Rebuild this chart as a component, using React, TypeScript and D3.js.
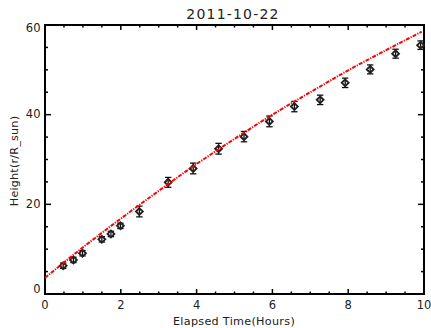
import React from "react";
import * as d3 from "d3";

const title = "2011-10-22";
const xLabel = "Elapsed Time(Hours)";
const yLabel = "Height(r/R_sun)";
const timeHours = [0.48, 0.75, 0.99, 1.5, 1.74, 1.99, 2.49, 3.25, 3.91, 4.58, 5.25, 5.92, 6.58, 7.26, 7.92, 8.58, 9.25, 9.91];
const heights = [6.3, 7.6, 9.1, 12.2, 13.4, 15.2, 18.4, 24.9, 28.0, 32.4, 35.1, 38.5, 41.8, 43.3, 47.1, 50.1, 53.6, 55.5];
const errors = [0.6, 0.6, 0.6, 0.6, 0.6, 0.6, 1.2, 1.1, 1.2, 1.2, 1.15, 1.2, 1.15, 1.05, 1.05, 1.0, 1.0, 0.95];
// fitted curve
const fitTimes = [0, 1, 2, 3, 4, 5, 6, 7, 8, 9, 9.94];
const fitHeights = [3.6, 10.4, 16.8, 23.0, 29.0, 34.6, 40.0, 45.0, 49.9, 54.4, 58.5];
const xMajorTicks = [0, 2, 4, 6, 8, 10];
const yMajorTicks = [0, 20, 40, 60];

export default function App() {
  const W = 431, H = 328;
  const L = 45, R = 424, T = 25, B = 294;
  const x = d3.scaleLinear().domain([0, 10]).range([L, R]);
  const y = d3.scaleLinear().domain([0, 60]).range([B, T]);
  const xMinor = d3.range(0, 10.001, 0.5);
  const yMinor = d3.range(0, 60.001, 5);
  const font = "DejaVu Sans, sans-serif";
  const fitLine = d3
    .line<number>()
    .x((_, i) => x(fitTimes[i]))
    .y((d) => y(d))
    .curve(d3.curveMonotoneX);
  const diamond = (cx: number, cy: number, r: number) =>
    `M${cx},${cy - r}L${cx + r},${cy}L${cx},${cy + r}L${cx - r},${cy}Z`;
  const yLabelOffset = (v: number) => (v === 0 ? -0.7 : v === 60 ? 7.3 : 3.3);
  return (
    <svg width={W} height={H} style={{ position: "absolute", left: 0, top: 0, background: "#fff" }}>
      <text x={233} y={19} textAnchor="middle" fontFamily={font} fontSize={14} letterSpacing={1.2} fill="#222">{title}</text>
      {xMinor.map((v, i) => {
        const major = xMajorTicks.some((m) => Math.abs(m - v) < 1e-6);
        const len = major ? 5 : 2.5;
        return (
          <g key={"xt" + i}>
            <line x1={x(v)} x2={x(v)} y1={B} y2={B - len} stroke="#000" strokeWidth={1.5} />
            <line x1={x(v)} x2={x(v)} y1={T} y2={T + len} stroke="#000" strokeWidth={1.5} />
          </g>
        );
      })}
      {yMinor.map((v, i) => {
        const major = yMajorTicks.some((m) => Math.abs(m - v) < 1e-6);
        const len = major ? 6 : 3;
        return (
          <g key={"yt" + i}>
            <line x1={L} x2={L + len} y1={y(v)} y2={y(v)} stroke="#000" strokeWidth={1.5} />
            <line x1={R} x2={R - len} y1={y(v)} y2={y(v)} stroke="#000" strokeWidth={1.5} />
          </g>
        );
      })}
      <rect x={L} y={T} width={R - L} height={B - T} fill="none" stroke="#000" strokeWidth={2} />
      {xMajorTicks.map((v) => (
        <text key={"xl" + v} x={x(v)} y={309} textAnchor="middle" fontFamily={font} fontSize={11.5} fill="#222">{v}</text>
      ))}
      {yMajorTicks.map((v) => (
        <text key={"yl" + v} x={40.5} y={y(v) + yLabelOffset(v)} textAnchor="end" fontFamily={font} fontSize={11.5} fill="#222">{v}</text>
      ))}
      <text x={234} y={325} textAnchor="middle" fontFamily={font} fontSize={11.2} letterSpacing={0.3} fill="#222">{xLabel}</text>
      <text transform={`translate(17.5,161) rotate(-90)`} textAnchor="middle" fontFamily={font} fontSize={11.2} letterSpacing={0.2} fill="#222">{yLabel}</text>
      {timeHours.map((t, i) => {
        const cx = x(t), cy = y(heights[i]);
        const y1 = y(heights[i] + errors[i]), y2 = y(heights[i] - errors[i]);
        return (
          <g key={"p" + i}>
            <line x1={cx} x2={cx} y1={y1} y2={y2} stroke="#111" strokeWidth={1.3} />
            <line x1={cx - 3.2} x2={cx + 3.2} y1={y1} y2={y1} stroke="#111" strokeWidth={1.3} />
            <line x1={cx - 3.2} x2={cx + 3.2} y1={y2} y2={y2} stroke="#111" strokeWidth={1.3} />
            <path d={diamond(cx, cy, 3.4)} fill="none" stroke="#222" strokeWidth={1.9} />
          </g>
        );
      })}
      <path d={fitLine(fitHeights) || ""} fill="none" stroke="#ff0000" strokeWidth={2} strokeDasharray="4,1.2,1.2,1.2" />
    </svg>
  );
}
